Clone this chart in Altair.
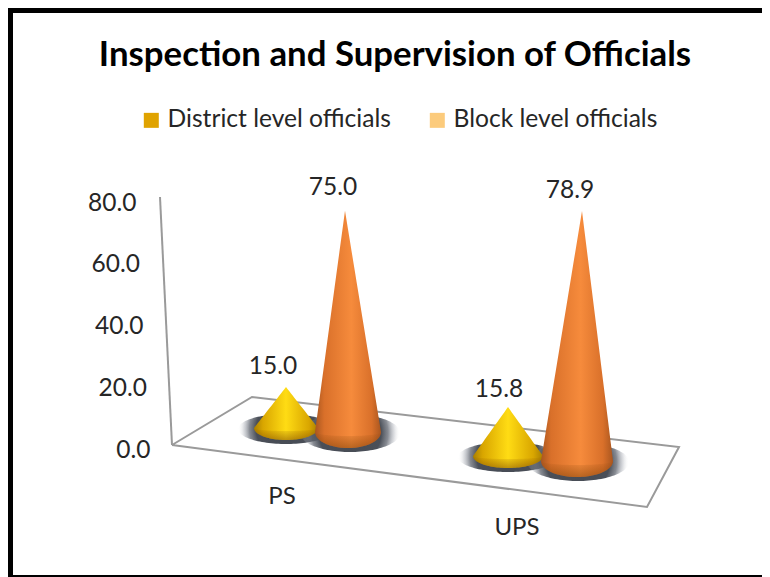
import altair as alt
import numpy as np
import pandas as pd

categories = ["PS", "UPS"]
series = ["District level officials", "Block level officials"]
district_values = [15.0, 15.8]
block_values = [75.0, 78.9]
tick_values = [0, 20, 40, 60, 80]

W, H = 754, 569
X0, Y0 = 8, 8          # page offset of the chart
ZERO_PY, PX_PER_UNIT = 447.0, 3.0875


def vy(py):
    """Value-axis units for a point that sits py pixels down the page."""
    return (ZERO_PY - py) / PX_PER_UNIT


x_scale = alt.Scale(domain=[X0, X0 + W], nice=False, zero=False)
y_scale = alt.Scale(domain=[vy(Y0 + H), vy(Y0)], nice=False, zero=False)
y_axis = alt.Axis(
    values=tick_values, format=".1f", title=None, grid=False, domain=False,
    ticks=False, labelFontSize=24.5, labelColor="#262626", labelFont="Lato",
    labelPadding=alt.ExprRef("datum.value * 0.175"), labelOffset=3, offset=-142,
)
X = alt.X("x:Q", scale=x_scale, axis=None)
Y = alt.Y("y:Q", scale=y_scale, axis=y_axis)
Y2 = alt.Y2("y2:Q")

# perspective placement of each cone: centre, radii, apex x, apparent height per unit
place = {
    ("PS", 0): dict(cx=286, cy=428, rx=32, ry=12, ax=286, unit=2.73),
    ("PS", 1): dict(cx=348, cy=432, rx=33, ry=16, ax=345, unit=2.95),
    ("UPS", 0): dict(cx=508, cy=456, rx=35, ry=12, ax=508, unit=3.10),
    ("UPS", 1): dict(cx=577, cy=461, rx=36, ry=16, ax=582, unit=3.17),
}
shadow = {
    ("PS", 0): dict(cx=286, cy=429, rx=48, ry=15),
    ("PS", 1): dict(cx=350, cy=433, rx=50, ry=19),
    ("UPS", 0): dict(cx=508, cy=457, rx=50, ry=15),
    ("UPS", 1): dict(cx=578, cy=462, rx=51, ry=19),
}
label_pos = {
    ("PS", 0): (273, 367),
    ("PS", 1): (333, 188),
    ("UPS", 0): (499, 390),
    ("UPS", 1): (570, 191),
}
cat_pos = {"PS": (282, 497), "UPS": (517, 528)}
wall = [(160, 197), (172, 445)]
floor_pts = [(172, 445), (252, 397), (679, 447), (647, 507), (172, 445)]


def linear(stops):
    return alt.LinearGradient(
        gradient="linear", x1=0, y1=0, x2=1, y2=0,
        stops=[alt.GradientStop(color=c, offset=o) for o, c in stops],
    )


yellow_fill = linear([(0, "#a97f00"), (0.14, "#d9a600"), (0.5, "#ffdc14"), (0.86, "#d9a600"), (1, "#a97f00")])
orange_fill = linear([(0, "#a9561f"), (0.14, "#d9702a"), (0.55, "#f68b3c"), (0.86, "#d9702a"), (1, "#a9561f")])
rim_fill = alt.LinearGradient(
    gradient="linear", x1=0, y1=0, x2=0, y2=1,
    stops=[
        alt.GradientStop(color="rgba(110,55,0,0)", offset=0),
        alt.GradientStop(color="rgba(110,55,0,0.45)", offset=1),
    ],
)
shadow_fill = alt.RadialGradient(
    gradient="radial", x1=0.5, y1=0.5, r1=0, x2=0.5, y2=0.5, r2=0.5,
    stops=[
        alt.GradientStop(color="#454a53", offset=0),
        alt.GradientStop(color="#4a4f58", offset=0.62),
        alt.GradientStop(color="rgba(95,100,110,0.75)", offset=0.76),
        alt.GradientStop(color="rgba(150,155,165,0.35)", offset=0.88),
        alt.GradientStop(color="rgba(255,255,255,0)", offset=1),
    ],
)

t = np.sin(np.linspace(-np.pi / 2, np.pi / 2, 61))
t[30] = 0.0


def half_of(ts, ry):
    return ry * np.sqrt(np.clip(1 - ts ** 2, 0, 1))


def cone_frame(p, value):
    apex = p["cy"] - value * p["unit"]
    left, right = p["cx"] - p["rx"], p["cx"] + p["rx"]
    xs = np.unique(np.append(p["cx"] + p["rx"] * t, p["ax"]))
    ts = (xs - p["cx"]) / p["rx"]
    upper = np.interp(xs, [left, p["ax"], right], [p["cy"], apex, p["cy"]])
    lower = p["cy"] + half_of(ts, p["ry"])
    return pd.DataFrame({"x": xs, "y": vy(upper), "y2": vy(lower)})


def rim_frame(p):
    half = half_of(t, p["ry"])
    return pd.DataFrame({
        "x": p["cx"] + p["rx"] * t,
        "y": vy(p["cy"] + 0.25 * half),
        "y2": vy(p["cy"] + half),
    })


def ellipse_frame(p):
    half = half_of(t, p["ry"])
    return pd.DataFrame({"x": p["cx"] + p["rx"] * t, "y": vy(p["cy"] - half), "y2": vy(p["cy"] + half)})


layers = []

# wall edge and floor
wall_df = pd.DataFrame({"x": [p[0] for p in wall], "y": [vy(p[1]) for p in wall], "o": [0, 1]})
floor_df = pd.DataFrame({"x": [p[0] for p in floor_pts], "y": [vy(p[1]) for p in floor_pts], "o": range(len(floor_pts))})
for frame in (wall_df, floor_df):
    layers.append(
        alt.Chart(frame).mark_line(color="#9a9a9a", strokeWidth=2).encode(x=X, y=Y, order="o:Q")
    )

# shadows
for key in place:
    layers.append(
        alt.Chart(ellipse_frame(shadow[key])).mark_area(color=shadow_fill).encode(x=X, y=Y, y2=Y2)
    )

# legend carrier: small squares hidden beneath the cone bases
points = []
for i, cat in enumerate(categories):
    for s, name in zip((0, 1), series):
        p = place[(cat, s)]
        points.append({"x": p["cx"], "y": vy(p["cy"]), "series": name})
layers.append(
    alt.Chart(pd.DataFrame(points)).mark_square(size=4).encode(
        x=X,
        y=Y,
        color=alt.Color(
            "series:N",
            scale=alt.Scale(domain=series, range=["#e0a300", "#fccb7c"]),
            sort=None,
            legend=alt.Legend(
                title=None, orient="none", legendX=131, legendY=100, direction="horizontal",
                columns=2, symbolType="square", symbolSize=225, symbolStrokeWidth=0,
                labelFont="Lato", labelFontSize=24.6, labelColor="#262626", labelLimit=400,
                columnPadding=34, symbolOpacity=1,
            ),
        ),
    )
)

# cones: District first, Block in front
for s, vals, fill in ((0, district_values, yellow_fill), (1, block_values, orange_fill)):
    for cat, value in zip(categories, vals):
        p = place[(cat, s)]
        layers.append(
            alt.Chart(cone_frame(p, value)).mark_area(color=fill).encode(x=X, y=Y, y2=Y2)
        )
        layers.append(
            alt.Chart(rim_frame(p)).mark_area(color=rim_fill).encode(x=X, y=Y, y2=Y2)
        )

# value labels
rows = []
for s, vals in ((0, district_values), (1, block_values)):
    for cat, value in zip(categories, vals):
        lx, ly = label_pos[(cat, s)]
        rows.append({"x": lx, "y": vy(ly), "label": f"{value:.1f}"})
layers.append(
    alt.Chart(pd.DataFrame(rows)).mark_text(font="Lato", fontSize=24.5, color="#262626", baseline="middle").encode(
        x=X, y=Y, text="label:N"
    )
)

# category labels
cat_df = pd.DataFrame({
    "x": [cat_pos[c][0] for c in categories],
    "y": [vy(cat_pos[c][1]) for c in categories],
    "label": categories,
})
layers.append(
    alt.Chart(cat_df).mark_text(font="Lato", fontSize=24, color="#262626", baseline="middle").encode(
        x=X, y=Y, text="label:N"
    )
)

# picture frame: left, top, bottom
frame_df = pd.DataFrame({"x": [0]})
layers.append(alt.Chart(frame_df).mark_rule(color="black", strokeWidth=5).encode(
    x=alt.value(2.5), y=alt.value(0), y2=alt.value(H)))
layers.append(alt.Chart(frame_df).mark_rule(color="black", strokeWidth=5).encode(
    x=alt.value(0), x2=alt.value(W), y=alt.value(2.5)))
layers.append(alt.Chart(frame_df).mark_rule(color="black", strokeWidth=2).encode(
    x=alt.value(0), x2=alt.value(W), y=alt.value(H - 1)))

chart = alt.layer(*layers).properties(
    width=W,
    height=H,
    padding=0,
    autosize=alt.AutoSizeParams(type="none"),
    title=alt.TitleParams(
        "Inspection and Supervision of Officials",
        font="Lato", fontSize=34.8, fontWeight="bold", color="black",
        anchor="middle", offset=-68, dx=10,
    ),
).configure_view(stroke=None)

chart.save("out.html", embed_options={"renderer": "svg", "actions": False})
